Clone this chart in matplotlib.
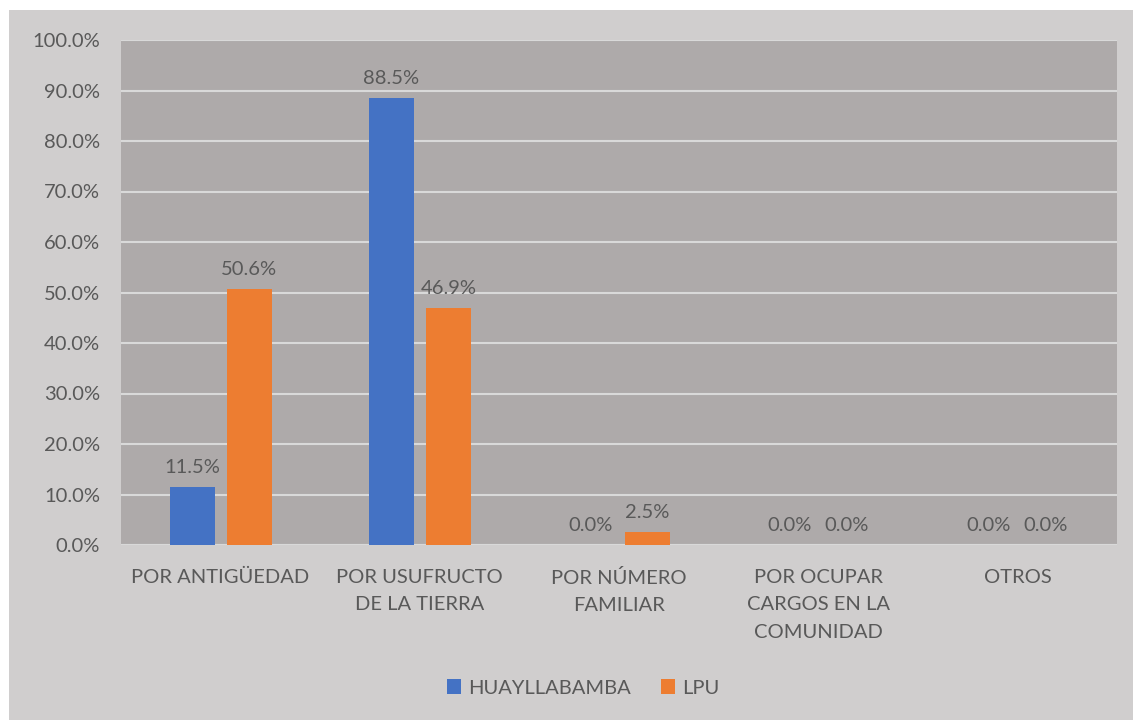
import matplotlib
matplotlib.use("Agg")
import matplotlib.pyplot as plt
import numpy as np
from matplotlib.patches import Rectangle

categories = ["POR ANTIGÜEDAD", "POR USUFRUCTO\nDE LA TIERRA", "POR NÚMERO\nFAMILIAR",
              "POR OCUPAR\nCARGOS EN LA\nCOMUNIDAD", "OTROS"]
huayllabamba = [11.5, 88.5, 0.0, 0.0, 0.0]
lpu = [50.6, 46.9, 2.5, 0.0, 0.0]
series_names = ["HUAYLLABAMBA", "LPU"]
yticks = [0, 10, 20, 30, 40, 50, 60, 70, 80, 90, 100]

plt.rcParams['font.family'] = ['Lato', 'DejaVu Sans']
W, H = 1133, 720
fig = plt.figure(figsize=(W/100, H/100), dpi=100)
fig.patch.set_facecolor("white")
fig.add_artist(Rectangle((9/W, 0), 1, 1 - 10/H, transform=fig.transFigure,
                         facecolor="#d0cece", edgecolor="none", zorder=-10))

left, right, top, bottom = 121, 1117, 40, 545
ax = fig.add_axes([left/W, 1 - bottom/H, (right-left)/W, (bottom-top)/H])
ax.set_facecolor("#aeaaaa")
x = np.arange(len(categories))
w = 0.226
off = 0.143
txt = "#595959"
fs = 14.5
b1 = ax.bar(x - off, huayllabamba, w, color="#4472c4", label=series_names[0], zorder=3)
b2 = ax.bar(x + off, lpu, w, color="#ed7d31", label=series_names[1], zorder=3)
for bars, vals in ((b1, huayllabamba), (b2, lpu)):
    for b, v in zip(bars, vals):
        ax.annotate(f"{v:.1f}%", (b.get_x() + b.get_width()/2, v), xytext=(0, 8),
                    textcoords="offset points", ha="center", va="bottom",
                    fontsize=fs, color=txt)
ax.set_xlim(-0.5, len(categories) - 0.5)
ax.set_ylim(0, 100)
ax.set_yticks(yticks)
ax.set_yticklabels([f"{t:.1f}%" for t in yticks], fontsize=fs, color=txt)
ax.set_xticks(x)
ax.set_xticklabels(categories, fontsize=fs, color=txt, linespacing=1.75)
ax.tick_params(axis="x", length=0, pad=17)
ax.tick_params(axis="y", length=0, pad=15)
ax.grid(axis="y", color="#d9d9d9", linewidth=1.5, zorder=1)
for s in ax.spines.values():
    s.set_visible(False)
ax.axhline(0, color="#d9d9d9", linewidth=1.5, zorder=2)
leg = fig.legend(handles=[b1, b2], labels=series_names, loc="center",
                 bbox_to_anchor=(583/W, 1 - 688/H), ncol=2, frameon=False,
                 fontsize=fs, handlelength=0.7, handleheight=0.7,
                 columnspacing=1.5, handletextpad=0.35)
for t in leg.get_texts():
    t.set_color(txt)
fig.savefig("out.png", dpi=100, facecolor=fig.get_facecolor())
